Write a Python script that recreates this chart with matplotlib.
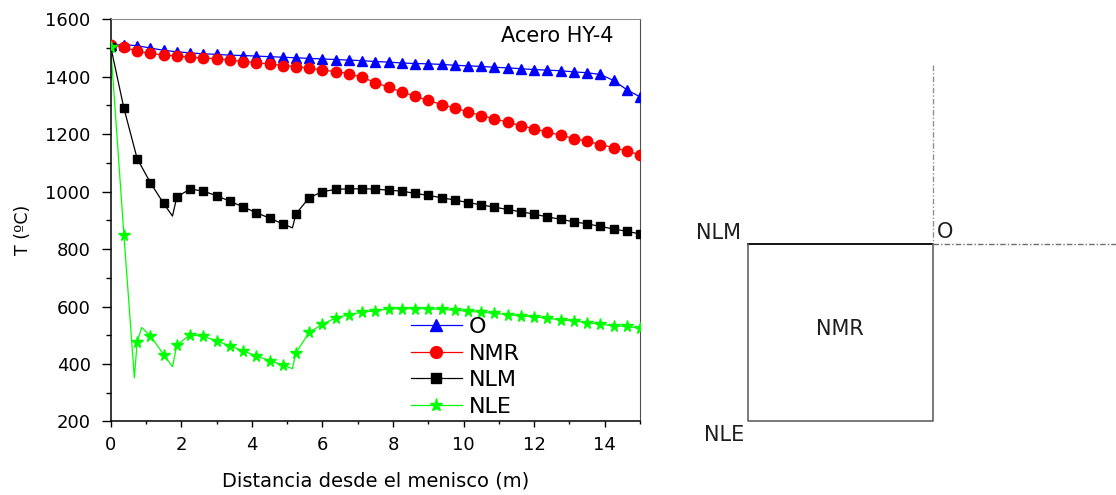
import numpy as np
import matplotlib
matplotlib.use("Agg")
import matplotlib.pyplot as plt
from matplotlib.ticker import MultipleLocator

# distance from the meniscus (m), one marker every 0.375 m
dist = np.linspace(0, 15, 41)

temp_o = [1510, 1512, 1508, 1500, 1492, 1487, 1483, 1480, 1478, 1475,
          1474, 1472, 1470, 1468, 1466, 1464, 1462, 1460, 1458, 1456,
          1453, 1451, 1448, 1446, 1445, 1443, 1440, 1438, 1436, 1433,
          1431, 1428, 1425, 1423, 1421, 1417, 1414, 1408, 1387, 1355, 1330]

temp_nmr = [1510, 1503, 1489, 1481, 1476, 1472, 1468, 1465, 1463, 1458,
            1453, 1449, 1445, 1439, 1435, 1430, 1423, 1418, 1411, 1398,
            1380, 1363, 1347, 1332, 1318, 1303, 1291, 1278, 1265, 1254,
            1241, 1230, 1219, 1207, 1197, 1185, 1176, 1164, 1153, 1142, 1128]

temp_nlm = [1505, 1290, 1115, 1031, 959, 982, 1009, 1002, 986, 967,
            947, 927, 908, 888, 923, 979, 1000, 1008, 1010, 1010,
            1009, 1005, 1002, 994, 987, 979, 971, 962, 954, 946,
            938, 930, 922, 912, 904, 895, 888, 879, 870, 862, 853]

temp_nle = [1505, 848, 478, 498, 433, 466, 502, 496, 481, 463,
            446, 428, 412, 396, 440, 510, 539, 560, 572, 580,
            586, 592, 593, 593, 593, 590, 588, 583, 581, 576,
            572, 568, 564, 559, 554, 550, 544, 539, 533, 531, 524]

# points of the curves that fall between markers (dips and peaks)
nlm_extra_x = [1.75, 5.15]
nlm_extra_t = [915, 874]
nle_extra_x = [0.67, 0.88, 1.75, 5.15]
nle_extra_t = [352, 527, 391, 384]


def curve(x, t, extra_x=(), extra_t=()):
    xs = np.concatenate([x, extra_x])
    ts = np.concatenate([t, extra_t])
    order = np.argsort(xs, kind="stable")
    return xs[order], ts[order]


def plot_series(ax, t, color, marker, ms, label, extra_x=(), extra_t=()):
    xs, ts = curve(dist, t, extra_x, extra_t)
    ax.plot(xs, ts, color=color, lw=0.9, zorder=2)
    ax.plot(dist, t, ls="none", marker=marker, ms=ms, color=color, zorder=3)
    # legend proxy: line with a single marker
    ax.plot([], [], color=color, lw=0.9, marker=marker, ms=ms + 1, label=label)


def draw_section(ax):
    # cross-section of the strand: corner O, mid-face NMR, edges NLM/NLE
    left, right, top, bottom = 748, 933, 244, 421
    ax.plot([left, right], [top, top], color="black", lw=1.3)
    ax.plot([left, left, right, right], [top, bottom, bottom, top],
            color="#555555", lw=1.1)
    dashdot = (0, (4, 1.5, 1, 1.5))
    ax.plot([right, right], [65, top], color="#909090", lw=1.0, ls=dashdot)
    ax.plot([right, 1116], [top, top], color="#707070", lw=1.0, ls=dashdot)

    kw = dict(fontsize=15, color="#1e1e1e", va="center")
    ax.text(696, 233, "NLM", ha="left", **kw)
    ax.text(937, 232, "O", ha="left", **kw)
    ax.text(840, 329, "NMR", ha="center", **kw)
    ax.text(704, 435, "NLE", ha="left", **kw)


def main():
    fig = plt.figure(figsize=(11.16, 4.95), dpi=100)

    sketch = fig.add_axes([0, 0, 1, 1])
    sketch.set_xlim(0, 1116)
    sketch.set_ylim(495, 0)
    sketch.axis("off")
    draw_section(sketch)

    ax = fig.add_axes([0.0992, 0.1485, 0.4743, 0.8125])

    plot_series(ax, temp_o, "#0000ff", "^", 7, "O")
    plot_series(ax, temp_nmr, "#ff0000", "o", 7.5, "NMR")
    plot_series(ax, temp_nlm, "#000000", "s", 5.5, "NLM", nlm_extra_x, nlm_extra_t)
    plot_series(ax, temp_nle, "#00ff00", "*", 8.5, "NLE", nle_extra_x, nle_extra_t)

    ax.set_xlim(0, 15)
    ax.set_ylim(200, 1600)
    ax.xaxis.set_major_locator(MultipleLocator(2))
    ax.xaxis.set_minor_locator(MultipleLocator(1))
    ax.yaxis.set_major_locator(MultipleLocator(200))
    ax.yaxis.set_minor_locator(MultipleLocator(100))

    ax.tick_params(axis="x", which="major", direction="out", length=4.5,
                   width=1, labelsize=13, pad=6)
    ax.tick_params(axis="x", which="minor", direction="out", length=2.5, width=1)
    ax.tick_params(axis="y", which="major", direction="out", length=6.5,
                   width=1, labelsize=13, pad=8)
    ax.tick_params(axis="y", which="minor", direction="out", length=3.5, width=1)

    for side in ("left", "bottom"):
        ax.spines[side].set_linewidth(1.1)
    ax.spines["top"].set_color("#8a8a8a")
    ax.spines["right"].set_color("#505050")

    ax.set_xlabel("Distancia desde el menisco (m)", fontsize=14)
    ax.set_ylabel("T (ºC)", fontsize=12.5)
    ax.xaxis.set_label_coords(0.5, -0.125)
    ax.yaxis.set_label_coords(-0.148, 0.476)

    ax.text(0.737, 0.958, "Acero HY-4", transform=ax.transAxes,
            fontsize=15, ha="left", va="center")

    ax.legend(loc="upper left", bbox_to_anchor=(0.567, 0.26), frameon=False,
              fontsize=16, handlelength=2.3, handletextpad=0.3,
              labelspacing=0.3, borderpad=0, borderaxespad=0, numpoints=1)

    fig.savefig("out.png", dpi=100)


if __name__ == "__main__":
    main()
